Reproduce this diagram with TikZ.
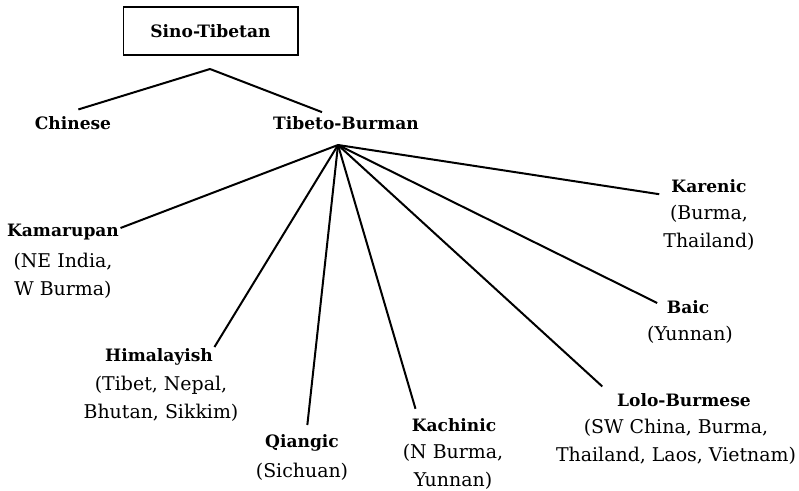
\documentclass[tikz,border=0pt]{standalone}
\usepackage{fontspec}
\setmainfont{DejaVu Serif}

\begin{document}
\begin{tikzpicture}[x=0.75pt, y=-0.75pt,
		lang/.style={font=\fontsize{12.8}{15}\selectfont\bfseries, inner sep=1pt},
		area/.style={font=\fontsize{14.2}{21}\selectfont, align=center, inner sep=0pt},
		branch/.style={line width=1.5pt}]
		\useasboundingbox (0,0) rectangle (799,491);

		% root and first split
		\node[lang, draw, line width=1pt, minimum width=131pt, minimum height=36pt] (st) at (210.5, 31) {Sino-Tibetan};
		\coordinate (top) at (210, 69);
		\node[lang] (ch) at (73, 123) {Chinese};
		\node[lang] (tb) at (346, 123) {Tibeto-Burman};
		\coordinate (hub) at (338, 145);

		\draw[branch] (top) -- ([xshift=4pt, yshift=4pt]ch.north);
		\draw[branch] (top) -- ([xshift=-18pt, yshift=2pt]tb.north);

		% Tibeto-Burman branches
		\node[lang] (kam) at (63, 232) {Kamarupan};
		\node[lang] (him) at (159, 357) {Himalayish};
		\node[lang] (qia) at (302, 443) {Qiangic};
		\node[lang] (kac) at (454, 425) {Kachinic};
		\node[lang] (lol) at (684, 400) {Lolo-Burmese};
		\node[lang] (bai) at (688, 307) {Baic};
		\node[lang] (kar) at (709, 186) {Karenic};

		\node[area] (kamr) at (63, 276) {(NE India,\\W Burma)};
		\node[area] (himr) at (161, 399) {(Tibet, Nepal,\\Bhutan, Sikkim)};
		\node[area] (qiar) at (302, 472) {(Sichuan)};
		\node[area] (kacr) at (453, 467) {(N Burma,\\Yunnan)};
		\node[area] (lolr) at (676, 442) {(SW China, Burma,\\Thailand, Laos, Vietnam)};
		\node[area] (bair) at (690, 335) {(Yunnan)};
		\node[area] (karr) at (709, 228) {(Burma,\\Thailand)};

		\draw[branch] (hub) -- ([yshift=3pt]kam.east);
		\draw[branch] (hub) -- (him.north east);
		\draw[branch] (hub) -- ([xshift=4pt, yshift=6pt]qia.north);
		\draw[branch] (hub) -- ([xshift=4pt, yshift=6pt]kac.north west);
		\draw[branch] (hub) -- ([xshift=-10pt, yshift=4pt]lol.north west);
		\draw[branch] (hub) -- ([xshift=-6pt, yshift=3pt]bai.west);
		\draw[branch] (hub) -- ([xshift=-8pt]kar.south west);

	\end{tikzpicture}
\end{document}
